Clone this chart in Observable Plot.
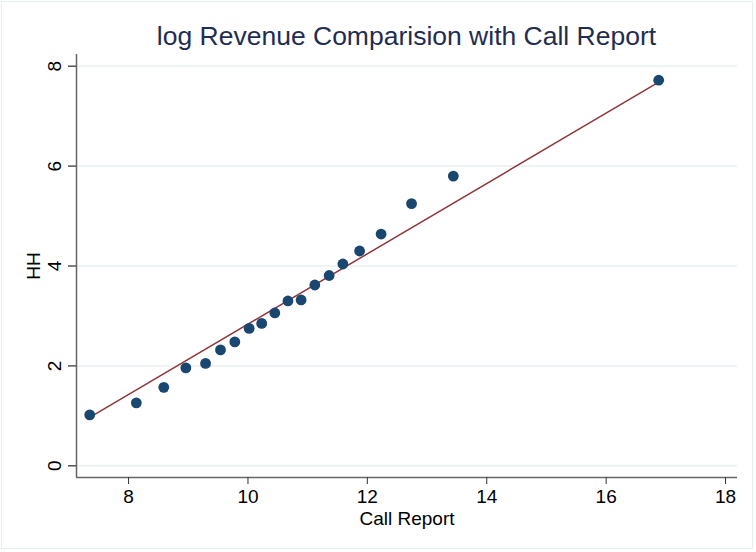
<!DOCTYPE html>
<html>
<head>
<meta charset="utf-8">
<script src="https://cdn.jsdelivr.net/npm/d3@7"></script>
<script src="https://cdn.jsdelivr.net/npm/@observablehq/plot@0.6"></script>
<style>
  html, body { margin: 0; padding: 0; background: #fff; }
  #wrap { position: relative; width: 756px; height: 552px; font-family: "Liberation Sans", Arial, Helvetica, sans-serif; }
  #border { position: absolute; left: 1px; top: 1px; width: 752px; height: 548px; border: 1px solid #e4edef; box-sizing: border-box; pointer-events: none; }
  #title { position: absolute; left: 76px; width: 661px; top: 18px; text-align: center; font-size: 26.5px; color: #1f2d52; line-height: 36px; }
  #chart { position: absolute; left: 0; top: 0; }
</style>
</head>
<body>
<div id="wrap">
  <div id="chart"></div>
  <div id="title">log Revenue Comparision with Call Report</div>
  <div id="border"></div>
</div>
<script>
const callReport = [7.35, 8.13, 8.59, 8.96, 9.29, 9.54, 9.78, 10.02, 10.23, 10.45, 10.67, 10.89, 11.12, 11.36, 11.59, 11.87, 12.23, 12.74, 13.44, 16.88];
const hh        = [1.02, 1.26, 1.57, 1.96, 2.05, 2.32, 2.48, 2.75, 2.85, 3.06, 3.30, 3.32, 3.62, 3.81, 4.04, 4.30, 4.64, 5.25, 5.80, 7.72];
// linear fit (from the underlying data)
const fitIntercept = -4.205;
const fitSlope = 0.7041;
const xTicks = [8, 10, 12, 14, 16, 18];
const yTicks = [0, 2, 4, 6, 8];
const xDomain = [7.128, 18.2];
const yDomain = [-0.235, 8.235];

const data = callReport.map((x, i) => ({x, y: hh[i]}));
const fitX = d3.extent(callReport);
const fit = fitX.map(x => ({x, y: fitIntercept + fitSlope * x}));
const font = `"Liberation Sans", Arial, Helvetica, sans-serif`;

const chart = Plot.plot({
  width: 756,
  height: 552,
  marginLeft: 76,
  marginRight: 19,
  marginTop: 54,
  marginBottom: 75,
  style: {fontFamily: font, fontSize: "19px", color: "#000", background: "transparent"},
  x: {domain: xDomain},
  y: {domain: yDomain},
  marks: [
    Plot.gridY(yTicks, {stroke: "#e8f0f2", strokeOpacity: 1, strokeWidth: 1.5}),
    Plot.ruleX([xDomain[0]], {stroke: "#666", strokeWidth: 1.5}),
    Plot.ruleY([yDomain[0]], {stroke: "#666", strokeWidth: 1.5}),
    Plot.axisX({ticks: xTicks, tickSize: 7, tickPadding: 5, stroke: "#333", strokeWidth: 1, label: null, fontSize: 19}),
    Plot.axisY({ticks: yTicks, tickSize: 8, stroke: "#555", strokeWidth: 1.5, label: null, tickFormat: () => ""}),
    Plot.text(yTicks, {y: d => d, text: d => String(d), frameAnchor: "left", dx: -22, rotate: -90, lineAnchor: "middle", textAnchor: "middle", fontSize: 19, fill: "#000"}),
    Plot.text(["Call Report"], {frameAnchor: "bottom", dy: 41, lineAnchor: "middle", fontSize: 19, fill: "#000"}),
    Plot.text(["HH"], {frameAnchor: "left", dx: -43, rotate: -90, lineAnchor: "middle", textAnchor: "middle", fontSize: 19, fill: "#000"}),
    Plot.line(fit, {x: "x", y: "y", stroke: "#90353b", strokeWidth: 1.5}),
    Plot.dot(data, {x: "x", y: "y", r: 5.4, fill: "#1a476f", stroke: "none"})
  ]
});
document.getElementById("chart").appendChild(chart);
</script>
</body>
</html>
